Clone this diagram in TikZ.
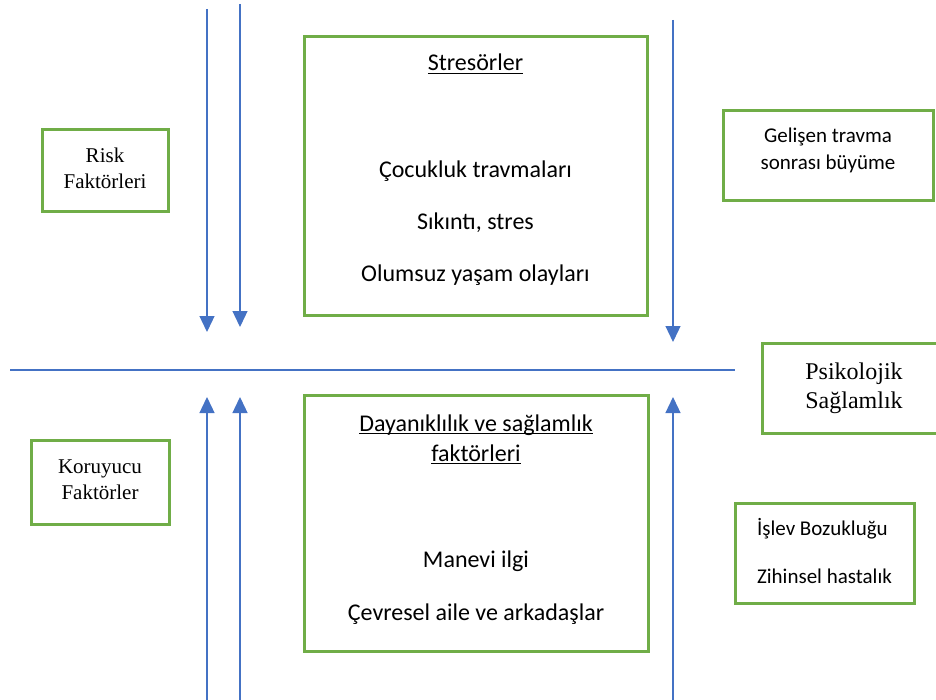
\documentclass[tikz,border=0pt]{standalone}
\usepackage{fontspec}
\setmainfont{Carlito}
\newfontfamily\serifface{Liberation Serif}
\usetikzlibrary{arrows.meta}
\definecolor{boxgreen}{HTML}{70AD47}
\definecolor{flowblue}{HTML}{4472C4}
\newcommand{\wordul}[1]{\sbox0{#1}\rlap{\rule[-3.4pt]{\wd0}{1.6pt}}\usebox0}

\begin{document}
\begin{tikzpicture}[x=1pt, y=-1pt,
    box/.style={draw=boxgreen, line width=3pt, inner sep=0pt},
    sidebox/.style={box, align=center, font=\fontsize{21}{27}\selectfont},
    serifbox/.style={box, align=center, font=\serifface\fontsize{21}{26}\selectfont},
    bigtext/.style={anchor=base, inner sep=0pt, font=\fontsize{24}{29}\selectfont},
    flow/.style={draw=flowblue, line width=1.3pt, -{Triangle[width=15pt, length=16pt]}}]
\useasboundingbox (0,0) rectangle (936,700);

% Stressors
\node[box, minimum width=343pt, minimum height=278pt] (stres) at (475.5,176) {};
\node[bigtext] (stresHead) at (475.5,71) {\wordul{Stresörler}};
\node[bigtext] (cocukluk) at (475.5,178) {Çocukluk travmaları};
\node[bigtext] (sikinti) at (475.5,230) {Sıkıntı, stres};
\node[bigtext] (olumsuz) at (475.5,282) {Olumsuz yaşam olayları};

% Resilience factors
\node[box, minimum width=344pt, minimum height=256pt] (dayan) at (476,523) {};
\node[bigtext] (dayanHead) at (476,431) {\wordul{Dayanıklılık ve sağlamlık}};
\node[bigtext] (dayanHeadB) at (476,461) {\wordul{faktörleri}};
\node[bigtext] (manevi) at (476,567) {Manevi ilgi};
\node[bigtext] (cevre) at (476,620) {Çevresel aile ve arkadaşlar};

% Side boxes
\node[serifbox, text depth=6pt, minimum width=126pt, minimum height=82pt] (risk) at (105,171) {Risk\\Faktörleri};
\node[serifbox, text depth=5pt, minimum width=138pt, minimum height=84pt] (koruyucu) at (100,482) {Koruyucu\\Faktörler};
\node[sidebox, text depth=14pt, minimum width=210pt, minimum height=90pt] (gelisen) at (828,156) {Gelişen travma\\sonrası büyüme};
\node[serifbox, font=\serifface\fontsize{24}{29}\selectfont, minimum width=184pt, minimum height=90pt] (psiko) at (854,388) {Psikolojik\\Sağlamlık};
\node[sidebox, align=left, text depth=4pt, minimum width=179pt, minimum height=100pt] (islev) at (824.5,553) {İşlev Bozukluğu\\[21pt]Zihinsel hastalık};

% Axis and arrows
\coordinate (axisL) at (10,370);
\coordinate (axisR) at (735,370);
\draw[draw=flowblue, line width=1.3pt] (axisL) -- (axisR);

\foreach \x/\ya/\yb [count=\i] in {207/9/332, 240/4/327, 673/20/342} {
    \coordinate (down\i) at (\x,\ya);
    \coordinate (downTip\i) at (\x,\yb);
    \draw[flow] (down\i) -- (downTip\i);
}
\foreach \x [count=\i] in {207, 240, 673} {
    \coordinate (up\i) at (\x,700);
    \coordinate (upTip\i) at (\x,397);
    \draw[flow] (up\i) -- (upTip\i);
}
\end{tikzpicture}
\end{document}
